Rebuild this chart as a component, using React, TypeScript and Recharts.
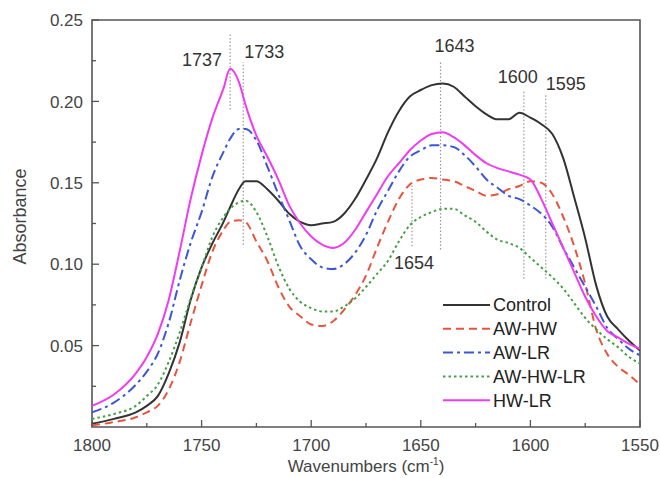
import { LineChart, Line, XAxis, YAxis, ReferenceLine, ReferenceArea, Legend } from "recharts";

const WAVENUMBERS = [
  1800, 1790, 1780, 1775, 1770, 1765, 1760, 1755, 1750, 1745, 1740, 1737, 1733, 1730, 1725, 1720, 1715, 1710, 1705, 1700,
  1695, 1690, 1685, 1680, 1675, 1670, 1665, 1660, 1655, 1650, 1645, 1640, 1635, 1630, 1625, 1620, 1615, 1610, 1605, 1600,
  1595, 1590, 1585, 1580, 1575, 1570, 1565, 1560, 1555, 1550,
];

const CONTROL = [
  0.002, 0.005, 0.009, 0.013, 0.019, 0.033, 0.052, 0.078, 0.098, 0.113, 0.126, 0.135, 0.146, 0.151, 0.151, 0.146, 0.139, 0.131, 0.126, 0.124,
  0.125, 0.126, 0.131, 0.14, 0.152, 0.165, 0.181, 0.194, 0.203, 0.207, 0.21, 0.211, 0.209, 0.203, 0.197, 0.192, 0.189, 0.189, 0.193, 0.19,
  0.186, 0.18, 0.165, 0.141, 0.116, 0.087, 0.068, 0.06, 0.053, 0.047,
];

const AW_HW = [
  0.001, 0.003, 0.006, 0.009, 0.013, 0.023, 0.04, 0.064, 0.087, 0.108, 0.121, 0.126, 0.127, 0.126, 0.114, 0.102, 0.086, 0.074, 0.068, 0.063,
  0.062, 0.065, 0.072, 0.081, 0.093, 0.11, 0.126, 0.14, 0.149, 0.152, 0.153, 0.152, 0.151, 0.148, 0.145, 0.142, 0.143, 0.146, 0.148, 0.151,
  0.15, 0.143, 0.129, 0.111, 0.088, 0.06, 0.045, 0.037, 0.032, 0.026,
];

const AW_LR = [
  0.009, 0.015, 0.026, 0.034, 0.045, 0.064, 0.09, 0.113, 0.132, 0.154, 0.169, 0.177, 0.183, 0.183, 0.176, 0.16, 0.143, 0.127, 0.111, 0.103,
  0.098, 0.097, 0.1, 0.107, 0.118, 0.133, 0.145, 0.157, 0.166, 0.17, 0.173, 0.173, 0.172, 0.167, 0.16, 0.152, 0.147, 0.142, 0.14, 0.136,
  0.131, 0.123, 0.11, 0.098, 0.086, 0.074, 0.061, 0.054, 0.048, 0.044,
];

const AW_HW_LR = [
  0.005, 0.008, 0.013, 0.019, 0.026, 0.04, 0.058, 0.079, 0.098, 0.117, 0.129, 0.134, 0.138, 0.139, 0.132, 0.117, 0.099, 0.085, 0.077, 0.073,
  0.071, 0.071, 0.074, 0.079, 0.086, 0.094, 0.102, 0.114, 0.124, 0.129, 0.132, 0.134, 0.134, 0.13, 0.126, 0.12, 0.115, 0.113, 0.11, 0.104,
  0.098, 0.092, 0.085, 0.076, 0.067, 0.06, 0.054, 0.049, 0.043, 0.039,
];

const HW_LR = [
  0.013, 0.02, 0.033, 0.043, 0.057, 0.078, 0.108, 0.14, 0.167, 0.19, 0.208, 0.22, 0.212, 0.198, 0.179, 0.166, 0.152, 0.136, 0.125, 0.117,
  0.112, 0.11, 0.113, 0.121, 0.132, 0.143, 0.154, 0.162, 0.17, 0.176, 0.18, 0.181, 0.178, 0.173, 0.167, 0.162, 0.159, 0.157, 0.155, 0.152,
  0.14, 0.125, 0.11, 0.095, 0.08, 0.068, 0.059, 0.055, 0.051, 0.048,
];

const X_TICKS = [1800, 1775, 1750, 1725, 1700, 1675, 1650, 1625, 1600, 1575, 1550];
const Y_TICKS = [0.025, 0.05, 0.075, 0.1, 0.125, 0.15, 0.175, 0.2, 0.225, 0.25];

// peak markers: where the dotted line sits, how far it runs, and its label
const PEAK_POS = [1737, 1731, 1641, 1654, 1603, 1593];
const PEAK_FROM = [0.195, 0.112, 0.109, 0.111, 0.091, 0.091];
const PEAK_TO = [0.242, 0.224, 0.224, 0.15, 0.207, 0.205];
const PEAK_LABELS = ["1737", "1733", "1643", "1654", "1600", "1595"];

const SERIES = [
  { key: "control", name: "Control", values: CONTROL, color: "#333333", dash: undefined as string | undefined },
  { key: "awhw", name: "AW-HW", values: AW_HW, color: "#e8553f", dash: "8 5" },
  { key: "awlr", name: "AW-LR", values: AW_LR, color: "#3b57d6", dash: "10 4 3 4" },
  { key: "awhwlr", name: "AW-HW-LR", values: AW_HW_LR, color: "#45a045", dash: "2.5 3" },
  { key: "hwlr", name: "HW-LR", values: HW_LR, color: "#f03cf0", dash: undefined },
];

const FONT = "'Liberation Sans', Arial, sans-serif";
const AXIS = "#555";
const TEXT = "#444";
const X_MARGIN = 8;
const Y_MARGIN = 9;

const data = WAVENUMBERS.map((wn, i) => {
  const row: { [k: string]: number } = { wn };
  SERIES.forEach((s) => {
    row[s.key] = s.values[i];
  });
  return row;
});

// label offsets (px) relative to the dotted line: [dx, dy, which end]
const LABEL_OFFSETS: [number, number, "top" | "bottom"][] = [
  [-28, 33, "top"],
  [21, -4, "top"],
  [14, -10, "top"],
  [2, 23, "bottom"],
  [-6, -7, "top"],
  [20, -3, "top"],
];

function XTick(props: any) {
  const { x, y, payload } = props;
  const major = payload.value % 50 === 0;
  const edge = y - X_MARGIN;
  return (
    <g>
      <line x1={x} x2={x} y1={edge} y2={edge - (major ? 7 : 4)} stroke={AXIS} strokeWidth={1.3} />
      {major && (
        <text x={x} y={y} dy="0.95em" textAnchor="middle" fontSize={17} fontFamily={FONT} fill={TEXT}>
          {payload.value}
        </text>
      )}
    </g>
  );
}

function YTick(props: any) {
  const { x, y, payload } = props;
  const v = payload.value as number;
  const major = Math.abs(v * 20 - Math.round(v * 20)) < 1e-6;
  const edge = x + Y_MARGIN;
  return (
    <g>
      <line x1={edge} x2={edge + (major ? 7 : 4)} y1={y} y2={y} stroke={AXIS} strokeWidth={1.3} />
      {major && (
        <text x={x} y={y} dy="0.36em" textAnchor="end" fontSize={17} fontFamily={FONT} fill={TEXT}>
          {v.toFixed(2)}
        </text>
      )}
    </g>
  );
}

function XTitle(props: any) {
  const { viewBox } = props;
  return (
    <text x={viewBox.x + viewBox.width / 2} y={viewBox.y + 45} textAnchor="middle" fontSize={17} fontFamily={FONT} fill={TEXT}>
      <tspan>Wavenumbers (cm</tspan>
      <tspan dy={-7} fontSize={10}>-1</tspan>
      <tspan dy={7}>)</tspan>
    </text>
  );
}

function YTitle(props: any) {
  const { viewBox } = props;
  const cx = viewBox.x + 8;
  const cy = viewBox.y + viewBox.height / 2 - 7;
  return (
    <text x={cx} y={cy} transform={`rotate(-90 ${cx} ${cy})`} textAnchor="middle" dominantBaseline="central" fontSize={18} fontFamily={FONT} fill={TEXT}>
      Absorbance
    </text>
  );
}

function LegendBox() {
  return (
    <svg width={170} height={122} style={{ display: "block" }}>
      {SERIES.map((s, i) => (
        <g key={s.key} transform={`translate(0, ${12 + i * 23.8})`}>
          <line x1={3} x2={50} y1={0} y2={0} stroke={s.color} strokeWidth={2} strokeDasharray={s.dash} />
          <text x={53} y={0} dy="0.36em" fontSize={18} fontFamily={FONT} fill="#222">
            {s.name}
          </text>
        </g>
      ))}
    </svg>
  );
}

export default function App() {
  return (
    <div style={{ position: "absolute", left: 0, top: 0, width: 660, height: 478, background: "#fff" }}>
      <LineChart width={660} height={478} data={data} margin={{ top: 20, right: 20, left: 12, bottom: 1 }}>
        <XAxis
          dataKey="wn"
          type="number"
          domain={[1550, 1800]}
          reversed
          ticks={X_TICKS}
          interval={0}
          tickSize={0}
          tickMargin={X_MARGIN}
          tickLine={false}
          axisLine={false}
          tick={<XTick />}
          height={50}
          allowDataOverflow
          label={<XTitle />}
        />
        <YAxis
          type="number"
          domain={[0, 0.25]}
          ticks={Y_TICKS}
          interval={0}
          tickSize={0}
          tickMargin={Y_MARGIN}
          tickLine={false}
          axisLine={false}
          tick={<YTick />}
          width={80}
          allowDataOverflow
          label={<YTitle />}
        />
        <ReferenceArea x1={1800} x2={1550} y1={0} y2={0.25} fill="none" stroke={AXIS} strokeWidth={1.6} ifOverflow="visible" />
        {PEAK_POS.map((wn, i) => {
          const [dx, dy, end] = LABEL_OFFSETS[i];
          return (
            <ReferenceLine
              key={PEAK_LABELS[i]}
              segment={[
                { x: wn, y: PEAK_FROM[i] },
                { x: wn, y: PEAK_TO[i] },
              ]}
              stroke="#999"
              strokeWidth={1.2}
              strokeDasharray="1.5 2"
              ifOverflow="visible"
              label={(p: any) => {
                const vb = p.viewBox;
                const base = end === "top" ? vb.y : vb.y + vb.height;
                return (
                  <text x={vb.x + dx} y={base + dy} textAnchor="middle" fontSize={18} fontFamily={FONT} fill="#333">
                    {PEAK_LABELS[i]}
                  </text>
                );
              }}
            />
          );
        })}
        {SERIES.map((s) => (
          <Line
            key={s.key}
            dataKey={s.key}
            name={s.name}
            type="monotone"
            stroke={s.color}
            strokeWidth={2}
            strokeDasharray={s.dash}
            dot={false}
            activeDot={false}
            isAnimationActive={false}
          />
        ))}
        <Legend
          layout="vertical"
          align="center"
          verticalAlign="middle"
          content={<LegendBox />}
          wrapperStyle={{ left: 440, top: 293, width: 170, height: 122 }}
        />
      </LineChart>
    </div>
  );
}
